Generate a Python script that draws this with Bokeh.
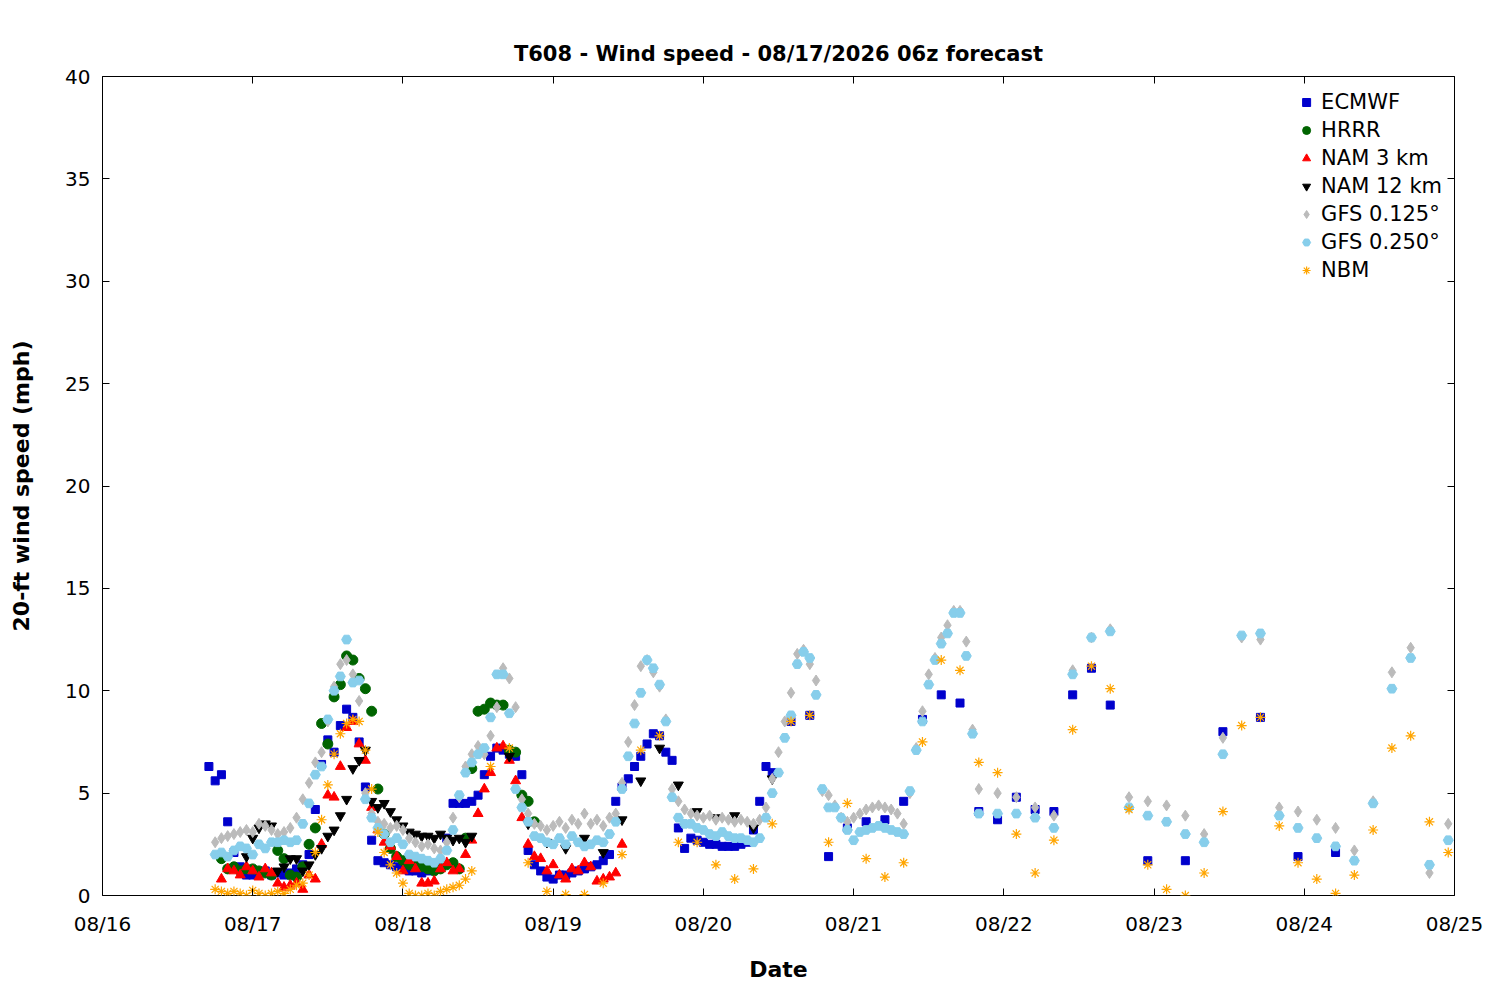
from bokeh.plotting import figure
from bokeh.models import LinearAxis, FixedTicker, Legend, LegendItem, Range1d
from bokeh.embed import file_html
from bokeh.resources import INLINE

def hrs(start, vals):
    return list(range(start, start + len(vals)))

# ---- data (hours since 08/16 00z, mph) ----
ecmwf_v = ([6.3,5.6,5.9,3.6,2.1,1.4,1.0] +
           [1.0,1.1,1.2,1.0,1.1,1.0,1.1,1.3,1.5,2.0] +
           [4.2,6.4,7.6,7.0,8.3,9.1,8.7,7.5,5.3,2.7] +
           [1.7,1.6,1.5,1.4,1.3,1.2,1.2,1.1,1.2,1.3,1.5,2.8,4.5] +
           [4.5,4.5,4.6,4.9,5.9,6.8,7.2,7.1,6.9,6.8,5.9] +
           [2.2,1.5,1.2,0.9,0.8,1.0,1.0,1.1,1.2,1.3,1.4,1.5,1.7,2.0] +
           [4.6,5.3,5.7,6.3,6.8,7.4,7.9,7.8,7.0,6.6,3.3,2.3] +
           [2.8,2.7,2.6,2.5,2.5,2.4,2.4,2.4,2.5,2.6,3.2,4.6,6.3,6.0])
ecmwf_h = hrs(17, ecmwf_v) + [110,113,116,119,122,125,128,131,134,137,140,143,146,149,152,155,158,161,167,173,179,185,191,197]
ecmwf_v = ecmwf_v + [8.5,8.8,1.9,3.3,3.6,3.7,4.6,8.6,9.8,9.4,4.1,3.7,4.8,4.2,4.1,9.8,11.1,9.3,1.7,1.7,8.0,8.7,1.9,2.1]

hrrr_v = ([1.8,1.3,1.4,1.2,1.3,1.3,1.2,1.1,1.0,2.2,1.8,1.0,0.9,1.4,2.5,3.3] +
          [8.4,7.4,9.7,10.3,11.7,11.5,10.6,10.1,9.0,5.2] +
          [3.0,2.3,1.9,1.7,1.5,1.6,1.4,1.3,1.2,1.3,1.5,1.6,1.3,2.8,6.2] +
          [9.0,9.1,9.4,9.3,9.3,7.1,7.0,4.9,4.6,3.6])
hrrr_h = hrs(19, hrrr_v)

nam3_v = ([0.8,1.3,1.2,1.0,1.4,1.2,0.9,1.3,1.1,0.6,0.4,0.5,0.6,0.3,1.0,0.8] +
          [2.5,4.9,4.8,6.3,8.2,8.5,7.4,6.6,4.3,3.2] +
          [2.6,2.4,1.9,1.2,1.7,1.3,0.6,0.6,0.7,1.3,1.6,1.2,1.3,2.0,2.7] +
          [4.0,5.2,6.0,7.2,7.3,6.6,5.6,3.8,2.5,1.9,1.8] +
          [1.2,1.5,1.0,0.8,1.3,1.2,1.6,1.4,0.7,0.8,0.9,1.1,2.5])
nam3_h = hrs(19, nam3_v)

nam12_v = ([1.9,2.8,3.3,3.5,3.4,1.2,1.4,1.8,1.8,1.2,1.5,2.0] +
           [2.3,2.9,3.2,3.9,4.7,6.2,6.6,7.1,4.6,4.3,4.5,4.1] +
           [3.7,3.4,3.1,3.0,2.9,2.9,2.8,3.0,2.8,2.7,2.8,2.6,2.9])
nam12_h = hrs(23, nam12_v) + [65,68,71,74,77,80,83,86,89,92,95,98,101,104,107]
nam12_v = nam12_v + [6.8,3.5,2.6,2.3,2.8,2.1,3.7,5.6,7.2,5.4,4.1,3.8,3.9,3.3,5.7]

late_h = [143,146,149,152,155,158,161,164,167,170,173,176,179,182,185,188,191,194,197,200,203,206,209,212,215]

g125_v = ([2.6,2.8,2.9,3.0,3.1,3.2,3.1,3.5,3.4,3.2,3.0,3.1,3.3,3.8,4.7,5.5] +
          [6.5,7.0,8.5,10.2,11.3,11.5,10.8,9.5,5.0,4.0,3.6] +
          [3.5,3.3,3.4,3.2,2.8,2.6,2.4,2.5,2.3,2.2,2.6,3.8,4.8] +
          [6.3,6.9,7.3,6.9,7.8,9.2,11.1,10.6,9.2,4.7,4.0] +
          [3.5,3.4,3.2,3.4,3.6,3.3,3.7,3.5,4.0,3.5,3.7,3.4,3.8,4.0,5.5] +
          [7.5,9.3,11.2,11.5,10.9,10.2,8.6,5.2,4.6,4.2,4.0,3.9,3.8] +
          [3.9,3.7,3.8,3.7,3.6,3.7,3.6,3.5,3.7,4.3,5.7,7.0,8.5] +
          [9.9,11.8,12.0,11.3,10.5,5.1,4.9,4.4,3.8,3.6,3.8,4.0,4.2,4.3,4.4] +
          [4.3,4.2,4.0,3.5,5.0,7.2,9.0,10.8,11.6,12.6,13.2,13.9,13.9,12.4,8.1,5.2])
g125_h = hrs(18, g125_v) + late_h
g125_v = g125_v + [5.0,4.8,4.3,3.9,11.0,12.6,13.0,4.8,4.6,4.4,3.9,3.0,7.7,12.6,12.5,4.3,4.1,3.7,3.3,2.2,4.6,10.9,12.1,1.1,3.5]

g250_v = ([2.0,2.1,1.9,2.2,2.4,2.3,2.0,2.5,2.3,2.6,2.6,2.7,2.6,2.7,3.5,4.5] +
          [5.9,6.3,8.6,10.0,10.7,12.5,10.4,10.5,4.7,3.8,3.3] +
          [3.0,2.6,2.8,2.5,2.0,1.9,1.8,1.7,1.6,1.8,2.2,3.2,4.9] +
          [6.0,6.5,6.9,7.2,8.7,10.8,10.8,8.9,5.2,4.3,3.6] +
          [2.9,2.8,2.6,2.5,2.8,2.5,2.9,2.6,2.4,2.5,2.7,2.6,3.0,3.6,5.2] +
          [6.8,8.4,9.9,11.5,11.1,10.3,8.5,4.8,3.8,3.5,3.5,3.3,3.2] +
          [3.0,2.9,3.1,2.9,2.8,2.8,2.7,2.6,2.8,3.8,5.0,6.0,7.7] +
          [8.8,11.3,11.9,11.6,9.8,5.2,4.3,4.3,3.8,3.2,2.7,3.1,3.2,3.3,3.4] +
          [3.3,3.2,3.1,3.0,5.1,7.1,8.5,10.3,11.5,12.3,12.8,13.8,13.8,11.7,7.9,4.0])
g250_h = hrs(18, g250_v) + late_h
g250_v = g250_v + [4.0,4.0,3.8,3.3,10.8,12.6,12.9,4.3,3.9,3.6,3.0,2.6,6.9,12.7,12.8,3.9,3.3,2.8,2.4,1.7,4.5,10.1,11.6,1.5,2.7]

nbm_v = ([0.3,0.2,0.1,0.2,0.1,0.0,0.25,0.1,0.0,0.1,0.2,0.1,0.3,0.5,0.6,1.0] +
         [2.1,3.7,5.4,6.9,7.9,8.4,8.6,8.5,7.1,5.2,3.1,2.1,1.5,1.1,0.6] +
         [0.1,0.0,0.0,0.1,0.0,0.2,0.3,0.4,0.5,0.8,1.2])
nbm_h = hrs(18, nbm_v) + list(range(62, 216, 3))
nbm_v = nbm_v + [6.3,7.2,1.6,0.2,0.05,0.05,0.6,2.0,7.1,7.8,2.6,2.6,1.5,0.8,1.3,3.5,8.5,8.8,
                 2.6,4.5,1.8,0.9,1.6,7.5,11.5,11.0,6.5,6.0,3.0,1.1,2.7,8.1,11.2,10.1,4.2,1.5,
                 0.3,0.0,1.1,4.1,8.3,8.7,3.4,1.6,0.8,0.1,1.0,3.2,7.2,7.8,3.6,2.1]

x_ticks = [0, 24, 48, 72, 96, 120, 144, 168, 192, 216]
x_labels = ["08/16", "08/17", "08/18", "08/19", "08/20", "08/21", "08/22", "08/23", "08/24", "08/25"]
y_ticks = [0, 5, 10, 15, 20, 25, 30, 35, 40]

F = "DejaVu Sans"
p = figure(width=1484, height=984, output_backend="svg", toolbar_location=None,
           x_range=Range1d(0, 216), y_range=Range1d(0, 40),
           title="T608 - Wind speed - 08/17/2026 06z forecast",
           min_border_left=102, min_border_right=30, min_border_bottom=82, min_border_top=76)
p.title.align = "center"
p.title.text_font = F
p.title.text_font_size = "21px"
p.title.text_font_style = "bold"
p.title.text_color = "black"
p.title.standoff = 22
p.grid.visible = False
p.outline_line_color = "black"
p.outline_line_width = 1
p.background_fill_color = "white"

for ax in [p.xaxis[0], p.yaxis[0]]:
    ax.major_label_text_font = F
    ax.major_label_text_font_size = "20px"
    ax.major_label_text_color = "black"
    ax.axis_label_text_font = F
    ax.axis_label_text_font_size = "22px"
    ax.axis_label_text_font_style = "bold"
    ax.axis_label_text_color = "black"
    ax.major_tick_in = 7
    ax.major_tick_out = 0
    ax.minor_tick_line_color = None
    ax.axis_line_color = None
p.xaxis[0].ticker = FixedTicker(ticks=x_ticks)
p.xaxis[0].major_label_overrides = {t: l for t, l in zip(x_ticks, x_labels)}
p.xaxis[0].major_label_standoff = 16
p.xaxis[0].axis_label_standoff = 18
p.xaxis[0].axis_label = "Date"
p.yaxis[0].ticker = FixedTicker(ticks=y_ticks)
p.yaxis[0].major_label_standoff = 12
p.yaxis[0].axis_label_standoff = 28
p.yaxis[0].axis_label = "20-ft wind speed (mph)"

ra = LinearAxis(ticker=FixedTicker(ticks=y_ticks), major_label_text_font_size="0px",
                major_tick_in=7, major_tick_out=0, minor_tick_line_color=None, axis_line_color=None)
ta = LinearAxis(ticker=FixedTicker(ticks=x_ticks), major_label_text_font_size="0px",
                major_tick_in=7, major_tick_out=0, minor_tick_line_color=None, axis_line_color=None)
p.add_layout(ra, "right")
p.add_layout(ta, "above")

series = [
    ("ECMWF", ecmwf_h, ecmwf_v, "square", "#0000cc", 8),
    ("HRRR", hrrr_h, hrrr_v, "circle", "#006400", 10),
    ("NAM 3 km", nam3_h, nam3_v, "triangle", "#ff0000", 10),
    ("NAM 12 km", nam12_h, nam12_v, "inverted_triangle", "#000000", 10),
    ("GFS 0.125°", g125_h, g125_v, "diamond", "#bbbbbb", 11),
    ("GFS 0.250°", g250_h, g250_v, "hex", "#87ceeb", 10),
    ("NBM", nbm_h, nbm_v, "asterisk", "#ffa500", 10),
]
items = []
for name, xs, ys, mk, col, sz in series:
    if mk == "asterisk":
        r = p.scatter(xs, ys, marker=mk, size=sz, line_color=col, line_width=1.2)
    else:
        r = p.scatter(xs, ys, marker=mk, size=sz, fill_color=col, line_color=col)
    items.append(LegendItem(label=name, renderers=[r]))

leg = Legend(items=items, location="top_right", border_line_color=None,
             background_fill_alpha=0, label_text_font=F, label_text_font_size="21px",
             label_text_color="black",
             spacing=0, label_height=28, glyph_height=28, margin=12)
p.add_layout(leg)

open("out.html", "w").write(file_html(p, INLINE))
